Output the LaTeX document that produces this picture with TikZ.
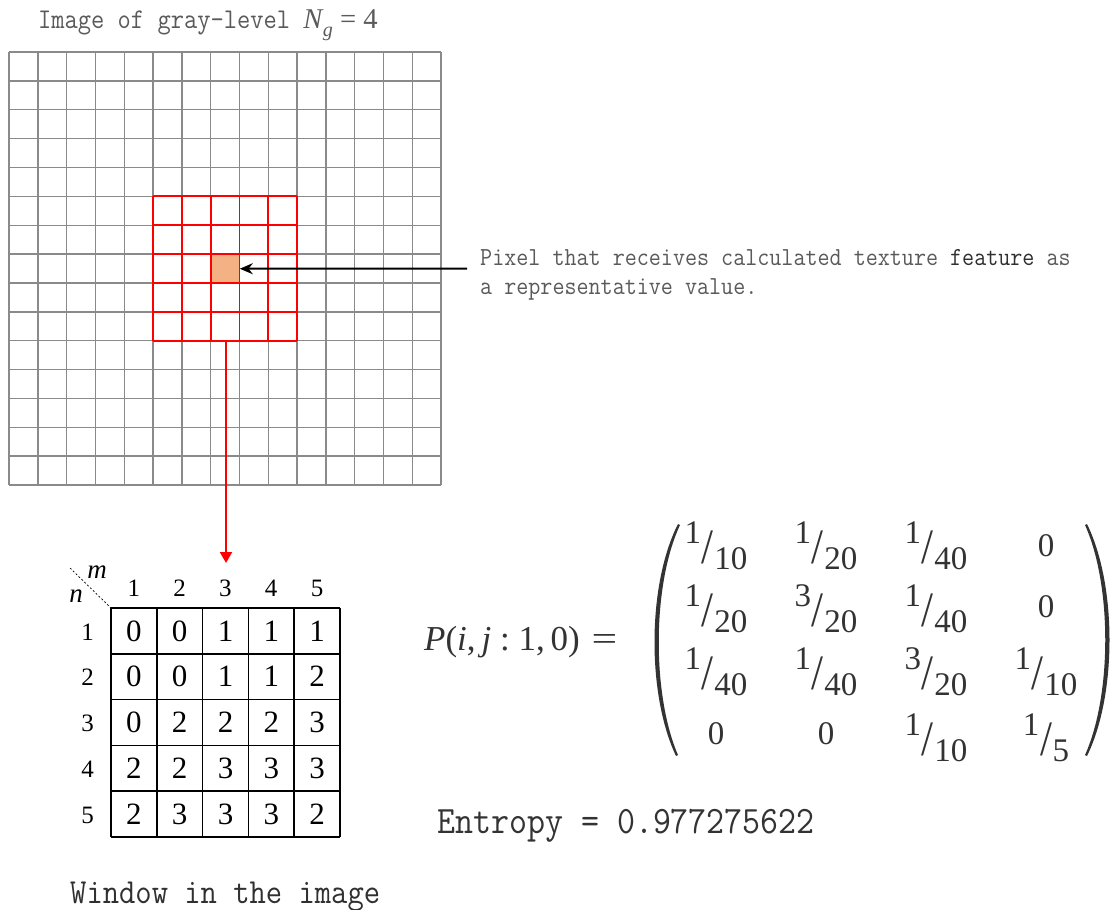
\documentclass[tikz,border=0pt]{standalone}
\usepackage{fontspec}
\newfontfamily\monof[FakeStretch=0.9]{Latin Modern Mono}
\newfontfamily\timesf{Liberation Serif}
\usetikzlibrary{arrows.meta}
\definecolor{gridgray}{HTML}{8A8A8A}
\definecolor{txtgray}{HTML}{5A5A5A}
\definecolor{pxorange}{HTML}{F4B183}
\definecolor{mtxt}{HTML}{333333}
\definecolor{darktxt}{HTML}{303030}
\newcommand{\slfrac}[2]{\raisebox{0.78em}{#1}\kern0.02em\raisebox{0.2em}{\scalebox{1.3}[1.5]{/}}\kern0.02em#2}
\tikzset{
  gridline/.style={draw=gridgray, line width=1.4pt},
  winline/.style={draw=red, line width=1.8pt},
  tabline/.style={draw=black, line width=1.6pt},
  cellnum/.style={font=\timesf\fontsize{31}{31}\selectfont, inner sep=0pt},
  lbl/.style={font=\timesf\fontsize{25}{25}\selectfont, inner sep=0pt},
  ment/.style={font=\timesf\fontsize{33}{33}\selectfont, text=mtxt, inner sep=0pt},
  paren/.style={fill=mtxt},
}
\begin{document}
\begin{tikzpicture}[x=1pt,y=-1pt]
\useasboundingbox (0,0) rectangle (1117,910);
% image grid 15x15
\foreach \i in {0,...,15}{
  \draw[gridline] (9+\i*28.8,52) -- (9+\i*28.8,485);
  \draw[gridline] (9,52+\i*28.87) -- (441,52+\i*28.87);
}
% centre pixel
\node[fill=pxorange, minimum width=28.8pt, minimum height=28.87pt, inner sep=0pt, anchor=north west] (px) at (210.6,254.09) {};
% red window
\foreach \i in {5,...,10}{
  \draw[winline] (9+\i*28.8,196.35) -- (9+\i*28.8,340.7);
  \draw[winline] (153,52+\i*28.87) -- (297,52+\i*28.87);
}
% title
\node[anchor=base west, inner sep=0pt, text=txtgray, font=\monof\fontsize{28.6}{30}\selectfont] (title) at (38,28) {Image of gray-level {\timesf\itshape N\kern0.02em\raisebox{-0.3em}{\fontsize{20}{20}\selectfont g}\upshape\ = 4}};
% pixel annotation
\coordinate (pa) at (467,268.5);
\draw[line width=2pt, -{Stealth[length=13pt,width=11pt]}] (pa) -- (px.east);
\node[anchor=base west, inner sep=0pt, text=txtgray, font=\monof\fontsize{26}{29}\selectfont] (ptxt1) at (480,265) {Pixel that receives calculated texture {\color{darktxt}feature} as};
\node[anchor=base west, inner sep=0pt, text=txtgray, font=\monof\fontsize{26}{29}\selectfont] (ptxt2) at (480,294) {a representative value.};
% red arrow to window table
\coordinate (wb) at (226,340.7);
\coordinate (wt) at (226,563);
\draw[draw=red, line width=2pt, -{Triangle[length=11pt,width=12pt,fill=red]}] (wb) -- (wt);
% window table
\foreach \i in {0,...,5}{
  \draw[tabline] (111+\i*45.8,608) -- (111+\i*45.8,837);
  \draw[tabline] (111,608+\i*45.8) -- (340,608+\i*45.8);
}
\foreach \r/\vals in {1/{0,0,1,1,1},2/{0,0,1,1,2},3/{0,2,2,2,3},4/{2,2,3,3,3},5/{2,3,3,3,2}}{
  \foreach \v [count=\c] in \vals {
    \node[cellnum] (t\r\c) at (111+45.8*\c-22.9,608+45.8*\r-22.9) {\v};
  }
}
\foreach \c in {1,...,5}{
  \node[lbl] (ch\c) at (88+45.8*\c,588.5) {\c};
  \node[lbl] (rh\c) at (87.5,586+45.8*\c) {\c};
}
\coordinate (dg) at (70,568);
\coordinate (tc) at (111,608);
\draw[line width=0.7pt, dash pattern=on 2pt off 2pt] (dg) -- (tc);
\node[inner sep=0pt, font=\timesf\itshape\fontsize{27}{27}\selectfont] (mlab) at (97,572) {m};
\node[inner sep=0pt, font=\timesf\itshape\fontsize{27}{27}\selectfont] (nlab) at (76,596) {n};
\node[anchor=base west, inner sep=0pt, text=darktxt, font=\monof\fontsize{35.2}{36}\selectfont] (wlab) at (70,903) {Window in the image};
% co-occurrence matrix
\node[anchor=base west, inner sep=0pt, text=mtxt, font=\timesf\fontsize{35}{35}\selectfont] (plab) at (424,650) {\itshape P\upshape(\itshape i\upshape,\,\itshape j\upshape\ :\ 1,\,0)\kern12pt\scalebox{1.3}[1]{=}};
\fill[paren] (678,524) .. controls (647,585) and (647,695) .. (676,756) -- (678,755) .. controls (652,695) and (652,585) .. (680,525) -- cycle;
\fill[paren] (1087,524) .. controls (1117,585) and (1117,695) .. (1087,756) -- (1085,755) .. controls (1112,695) and (1112,585) .. (1085,525) -- cycle;
\node[ment] (m11) at (716,546) {\slfrac{1}{10}};
\node[ment] (m12) at (826,546) {\slfrac{1}{20}};
\node[ment] (m13) at (936,546) {\slfrac{1}{40}};
\node[ment] (m14) at (1046,546) {0};
\node[ment] (m21) at (716,609) {\slfrac{1}{20}};
\node[ment] (m22) at (826,609) {\slfrac{3}{20}};
\node[ment] (m23) at (936,609) {\slfrac{1}{40}};
\node[ment] (m24) at (1046,607) {0};
\node[ment] (m31) at (716,672) {\slfrac{1}{40}};
\node[ment] (m32) at (826,672) {\slfrac{1}{40}};
\node[ment] (m33) at (936,672) {\slfrac{3}{20}};
\node[ment] (m34) at (1046,672) {\slfrac{1}{10}};
\node[ment] (m41) at (716,734) {0};
\node[ment] (m42) at (826,734) {0};
\node[ment] (m43) at (936,738) {\slfrac{1}{10}};
\node[ment] (m44) at (1046,738) {\slfrac{1}{5}};
% entropy
\node[anchor=base west, inner sep=0pt, text=mtxt, font=\monof\fontsize{38.8}{40}\selectfont] (ent) at (437,833) {Entropy = 0.977275622};
\end{tikzpicture}
\end{document}
